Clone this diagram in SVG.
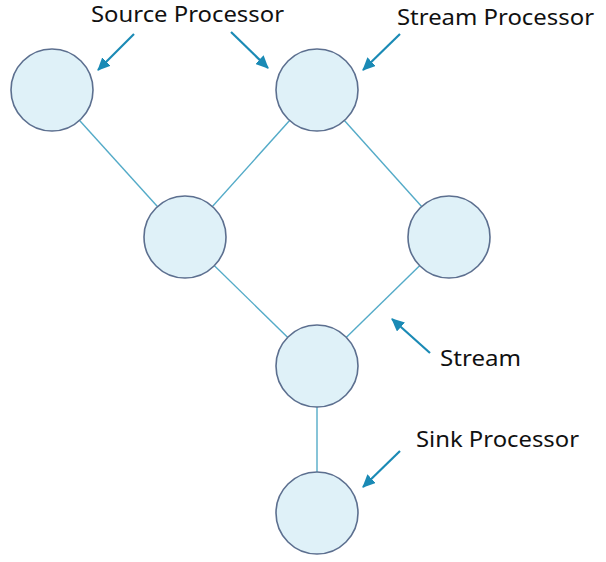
<svg xmlns="http://www.w3.org/2000/svg" width="606" height="562" viewBox="0 0 606 562">
<style>
.node{fill:#dff1f8;stroke:#5c6f8f;stroke-width:1.6}
.edge{stroke:#54abc8;stroke-width:1.4;fill:none}
.ptr{stroke:#1a8ab5;stroke-width:2.2;fill:none}
.lbl{font-family:"Noto Sans","Open Sans",sans-serif;font-size:21px;fill:#111}
</style>
<defs>
<marker id="ah" markerWidth="14" markerHeight="12" refX="12" refY="6" orient="auto" markerUnits="userSpaceOnUse">
<path d="M0,0 L13,6 L0,12 z" fill="#1a8ab5"/>
</marker>
</defs>
<rect width="606" height="562" fill="#fff"/>
<g id="connectors">
<line class="edge" x1="52" y1="90" x2="185" y2="237"/>
<line class="edge" x1="317" y1="90" x2="185" y2="237"/>
<line class="edge" x1="317" y1="90" x2="449" y2="237"/>
<line class="edge" x1="185" y1="237" x2="317" y2="366"/>
<line class="edge" x1="449" y1="237" x2="317" y2="366"/>
<line class="edge" x1="317" y1="366" x2="317" y2="513"/>
</g>
<g id="n1"><circle class="node" cx="52" cy="90" r="41"/></g>
<g id="n2"><circle class="node" cx="317" cy="90" r="41"/></g>
<g id="n3"><circle class="node" cx="185" cy="237" r="41"/></g>
<g id="n4"><circle class="node" cx="449" cy="237" r="41"/></g>
<g id="n5"><circle class="node" cx="317" cy="366" r="41"/></g>
<g id="n6"><circle class="node" cx="317" cy="513" r="41"/></g>
<g id="annotations">
<line class="ptr" x1="134" y1="34" x2="98" y2="70" marker-end="url(#ah)"/>
<line class="ptr" x1="231" y1="32" x2="268" y2="68" marker-end="url(#ah)"/>
<line class="ptr" x1="400" y1="34" x2="363" y2="70" marker-end="url(#ah)"/>
<line class="ptr" x1="430" y1="353" x2="392" y2="319" marker-end="url(#ah)"/>
<line class="ptr" x1="400" y1="451" x2="363" y2="487" marker-end="url(#ah)"/>
<text class="lbl" x="91" y="22" textLength="193" lengthAdjust="spacingAndGlyphs">Source Processor</text>
<text class="lbl" x="397" y="25" textLength="197" lengthAdjust="spacingAndGlyphs">Stream Processor</text>
<text class="lbl" x="440" y="366" textLength="81" lengthAdjust="spacingAndGlyphs">Stream</text>
<text class="lbl" x="416" y="447" textLength="163" lengthAdjust="spacingAndGlyphs">Sink Processor</text>
</g>
</svg>
